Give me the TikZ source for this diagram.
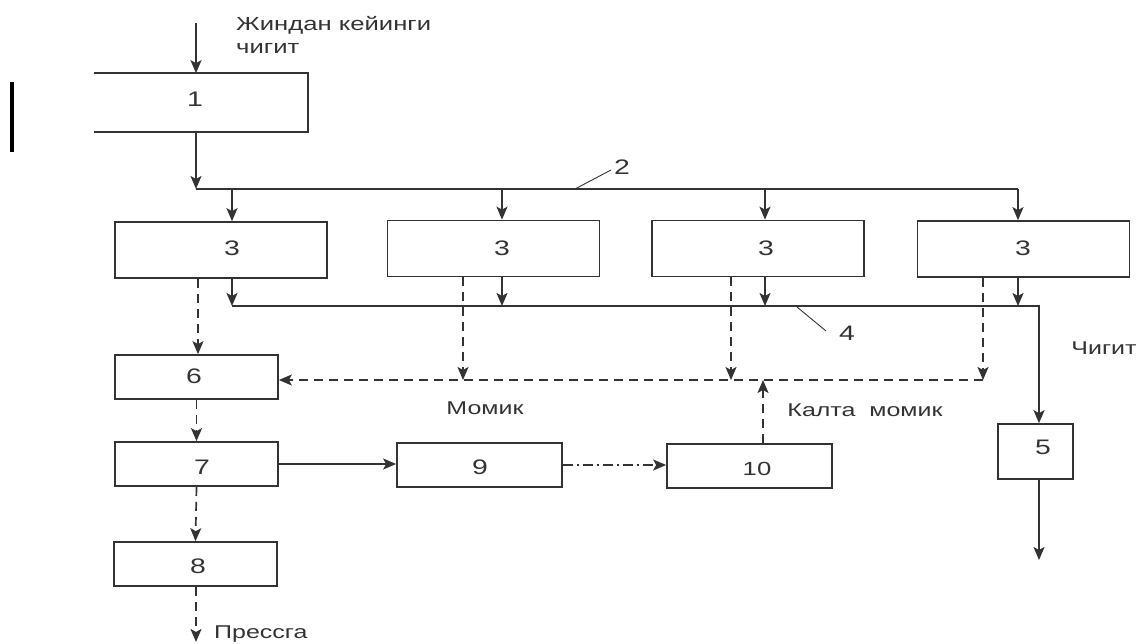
\documentclass[tikz,border=0pt]{standalone}
\usepackage{fontspec}
\setmainfont{Liberation Sans}[FakeStretch=1.35]
\usetikzlibrary{arrows.meta}
\definecolor{ink}{HTML}{333333}
\begin{document}
\begin{tikzpicture}[x=1pt,y=-1pt,
  box/.style={draw=ink, line width=1.7pt, rectangle, inner sep=0pt},
  boxline/.style={draw=ink, line width=1.7pt},
  arr/.style={draw=ink, line width=1.7pt, -{Stealth[length=13pt,width=11pt,inset=3pt]}},
  plain/.style={draw=ink, line width=1.7pt},
  dsh/.style={dash pattern=on 9pt off 6pt},
  dashdot/.style={dash pattern=on 10pt off 4pt on 2pt off 4pt},
  leader/.style={draw=ink, line width=0.9pt},
  txt/.style={text=ink, font=\fontsize{18.5}{23}\selectfont, inner sep=0pt},
  num/.style={text=ink, font=\fontsize{21}{24}\selectfont, inner sep=0pt}]
\useasboundingbox (0,0) rectangle (1137,644);

% boxes
\node[box, draw=none, minimum width=212pt, minimum height=57pt] (b1) at (201,102.5) {};
\draw[boxline] (b1.north west) -- (b1.north east) -- (b1.south east) -- (b1.south west);
\node[num] (t1) at (195,99) {1};

\node[box, minimum width=212pt, minimum height=56pt] (a) at (221,250) {};
\node[box, minimum width=212pt, minimum height=56pt] (b) at (493.5,248.5) {};
\node[box, minimum width=212pt, minimum height=56pt] (c) at (758,248.5) {};
\node[box, minimum width=212pt, minimum height=56pt] (d) at (1023.5,249) {};
\node[num] (ta) at (232,248) {3};
\node[num] (tb) at (502,248) {3};
\node[num] (tc) at (766,248) {3};
\node[num] (td) at (1023,248) {3};

\node[box, minimum width=163pt, minimum height=44pt] (n6) at (196.5,377) {};
\node[box, minimum width=163pt, minimum height=44pt] (n7) at (196.5,464) {};
\node[box, minimum width=163pt, minimum height=44pt] (n8) at (195.5,564) {};
\node[box, minimum width=165pt, minimum height=44pt] (n9) at (479.5,465) {};
\node[box, minimum width=165pt, minimum height=44pt] (n10) at (749.5,466) {};
\node[box, minimum width=75pt, minimum height=55pt] (n5) at (1035.5,451.5) {};
\node[num] (t6) at (194,376) {6};
\node[num] (t7) at (202,467) {7};
\node[num] (t8) at (198,566) {8};
\node[num] (t9) at (480,467) {9};
\node[num, font=\fontsize{19}{22}\selectfont] (t10) at (757,469) {10};
\node[num] (t5) at (1043,447) {5};

% texts
\node[txt, font=\fontsize{19}{23}\selectfont, anchor=west, align=left] (tin) at (236,35) {Жиндан кейинги\\чигит};
\node[txt] (tmom) at (485,408) {Момик};
\node[txt] (tkal) at (865,410) {Калта\ \ момик};
\node[txt] (tchig) at (1104,348) {Чигит};
\node[txt, anchor=west] (tpr) at (214,634) {Прессга};

% input and bus 2
\coordinate (in0) at (196,23);
\draw[arr] (in0) -- (in0 |- b1.north);
\coordinate (j2) at (196,189);
\coordinate (e2) at (1018,189);
\draw[arr] (j2 |- b1.south) -- (j2);
\draw[plain] (j2) -- (e2);
\coordinate (pa) at (232,189);
\coordinate (pb) at (502,189);
\coordinate (pc) at (765,189);
\draw[arr] (pa) -- (pa |- a.north);
\draw[arr] (pb) -- (pb |- b.north);
\draw[arr] (pc) -- (pc |- c.north);
\draw[arr] (e2) -- (e2 |- d.north);

% bus 4
\coordinate (qa) at (232,306);
\coordinate (qb) at (502,306);
\coordinate (qc) at (765,306);
\coordinate (qd) at (1018,306);
\coordinate (q4) at (1039,306);
\draw[arr] (qa |- a.south) -- (qa);
\draw[arr] (qb |- b.south) -- (qb);
\draw[arr] (qc |- c.south) -- (qc);
\draw[arr] (qd |- d.south) -- (qd);
\draw[arr] (qa) -- (q4) -- (q4 |- n5.north);
\coordinate (o5) at (1039,560);
\draw[arr] (o5 |- n5.south) -- (o5);

% dashed momik lines
\coordinate (da) at (198,380);
\coordinate (db) at (463,380);
\coordinate (dc) at (731,380);
\coordinate (dd) at (983,380);
\draw[arr,dsh] (da |- a.south) -- (da |- n6.north);
\draw[arr,dsh] (db |- b.south) -- (db);
\draw[arr,dsh] (dc |- c.south) -- (dc);
\draw[arr,dsh] (dd |- d.south) -- (dd);
\draw[arr,dsh] (dd) -- (dd -| n6.east);
\coordinate (u10) at (763,380);
\draw[arr,dsh] (u10 |- n10.north) -- (u10);

% lower chain
\draw[arr,dsh] (n6.south) -- (n7.north);
\draw[arr,dsh] (n7.south) -- (n8.north);
\coordinate (pr) at (196,642);
\draw[arr,dsh] (pr |- n8.south) -- (pr);
\draw[arr] (n7.east) -- (n7.east -| n9.west);
\draw[arr,dashdot] (n9.east) -- (n9.east -| n10.west);

% leaders
\coordinate (l2a) at (575,189);
\coordinate (l2b) at (611,170);
\draw[leader] (l2a) -- (l2b);
\node[num, anchor=west] (t2) at (614,167) {2};
\coordinate (l4a) at (797,307);
\coordinate (l4b) at (826,331);
\draw[leader] (l4a) -- (l4b);
\node[num] (t4) at (847,333) {4};

% black bar at left
\draw[line width=4pt, black] (12,82) -- (12,152);
\end{tikzpicture}
\end{document}
